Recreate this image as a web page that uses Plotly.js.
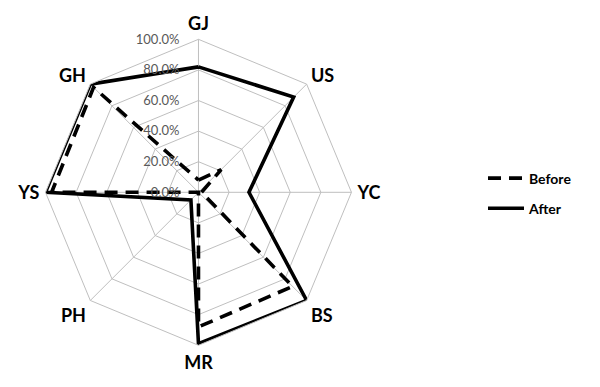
<!DOCTYPE html>
<html><head><meta charset="utf-8">
<script src="https://cdn.plot.ly/plotly-3.0.1.min.js"></script>
<style>html,body{margin:0;padding:0;background:#fff}#chart{width:600px;height:387px}</style>
</head><body><div id="chart"></div>
<script>
const categories = ['GJ','US','YC','BS','MR','PH','YS','GH'];
const beforeValues = [0.08, 0.21, 0.02, 0.87, 0.88, 0.00, 0.96, 0.97];
const afterValues  = [0.82, 0.88, 0.33, 1.00, 0.99, 0.07, 1.00, 1.00];
const radialTicks = [0, 0.2, 0.4, 0.6, 0.8, 1.0];

function closeLoop(a){ return a.concat([a[0]]); }

const traces = [
  {type:'scatterpolar', name:'Before', legendgroup:'b', r:closeLoop(beforeValues), theta:closeLoop(categories),
   mode:'lines', line:{color:'#000', width:3.6, dash:'13px,8px'}},
  {type:'scatterpolar', name:'After', legendgroup:'a', r:closeLoop(afterValues), theta:closeLoop(categories),
   mode:'lines', line:{color:'#000', width:3.6}}
];

const layout = {
  width:600, height:387, margin:{l:0,r:0,t:0,b:0},
  paper_bgcolor:'#fff', showlegend:true,
  font:{family:'Lato, "Open Sans", sans-serif', color:'#000'},
  polar:{
    domain:{x:[0.0758,0.5858], y:[0.1078,0.8984]},
    bgcolor:'#fff',
    gridshape:'linear',
    angularaxis:{type:'category', categoryarray:categories, rotation:90, direction:'clockwise',
      showline:true, linecolor:'#bfbfbf', linewidth:1, gridcolor:'#bfbfbf', gridwidth:1,
      ticks:'outside', ticklen:2, tickcolor:'rgba(0,0,0,0)',
      tickfont:{size:18, family:'Lato', color:'#000', weight:'bold'}},
    radialaxis:{range:[0,1], angle:90, tickangle:90, side:'counterclockwise', tickvals:radialTicks,
      tickformat:'.1%', showline:false, ticks:'outside', ticklen:14, tickcolor:'rgba(0,0,0,0)',
      gridcolor:'#bfbfbf', gridwidth:1,
      tickfont:{size:13, color:'#595959', family:'Lato'}}
  },
  legend:{x:0.805, y:0.5, xanchor:'left', yanchor:'middle', font:{size:14, weight:'bold', color:'#000'},
    bgcolor:'rgba(0,0,0,0)', traceorder:'grouped', tracegroupgap:9, itemwidth:36}
};
Plotly.newPlot('chart', traces, layout, {staticPlot:true});
</script></body></html>
